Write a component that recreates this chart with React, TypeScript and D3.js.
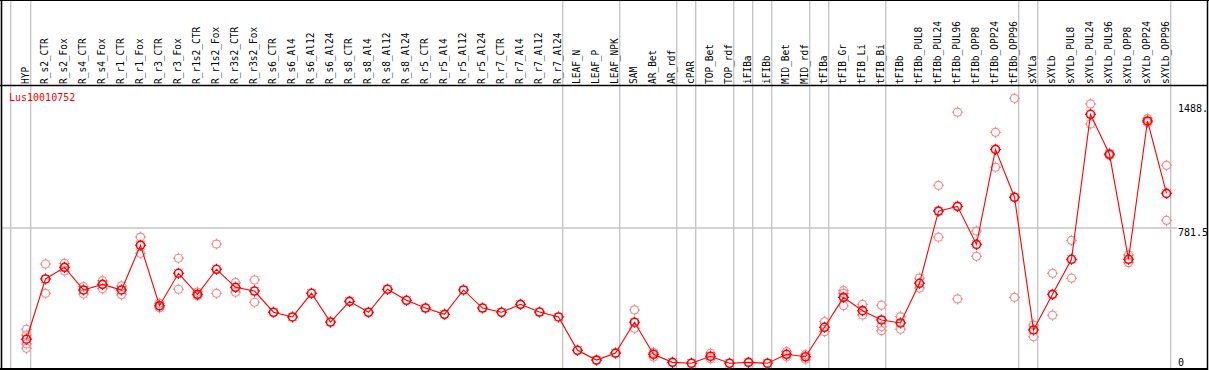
import React from "react";
import * as d3 from "d3";

const geneName = "Lus10010752";

const categories = [
  "HYP", "R_s2_CTR", "R_s2_Fox", "R_s4_CTR", "R_s4_Fox", "R_r1_CTR", "R_r1_Fox", "R_r3_CTR", "R_r3_Fox",
  "R_r1s2_CTR", "R_r1s2_Fox", "R_r3s2_CTR", "R_r3s2_Fox", "R_s6_CTR", "R_s6_Al4", "R_s6_Al12", "R_s6_Al24",
  "R_s8_CTR", "R_s8_Al4", "R_s8_Al12", "R_s8_Al24", "R_r5_CTR", "R_r5_Al4", "R_r5_Al12", "R_r5_Al24",
  "R_r7_CTR", "R_r7_Al4", "R_r7_Al12", "R_r7_Al24", "LEAF_N", "LEAF_P", "LEAF_NPK", "SAM", "AR_Bet", "AR_rdf",
  "cPAR", "TOP_Bet", "TOP_rdf", "iFIBa", "iFIBb", "MID_Bet", "MID_rdf", "tFIBa", "tFIB_Gr", "tFIB_Li", "tFIB_Bi",
  "tFIBb", "tFIBb_PUL8", "tFIBb_PUL24", "tFIBb_PUL96", "tFIBb_OPP8", "tFIBb_OPP24", "tFIBb_OPP96",
  "sXYLa", "sXYLb", "sXYLb_PUL8", "sXYLb_PUL24", "sXYLb_PUL96", "sXYLb_OPP8", "sXYLb_OPP24", "sXYLb_OPP96",
];

const meanValues = [
  147, 491, 557, 428, 460, 428, 683, 338, 523,
  403, 546, 443, 422, 301, 274, 409, 245,
  363, 301, 432, 369, 325, 289, 428, 325,
  301, 346, 302, 274, 84, 28, 68, 244, 61, 15,
  10, 50, 10, 15, 10, 61, 47, 215, 386, 310, 257,
  240, 466, 878, 905, 688, 1230, 957,
  200, 403, 603, 1430, 1202, 603, 1392, 979,
];

const replicateValues: number[][] = [
  [204, 171, 120, 95], [576, 409], [580, 536], [447, 405], [481, 435], [451, 401], [730, 637], [352, 327], [609, 432],
  [416, 395], [690, 409], [470, 415], [485, 358], [], [], [], [],
  [], [], [], [], [], [], [], [],
  [], [], [], [], [], [], [], [314, 209], [71, 46], [],
  [], [67, 36], [], [], [], [76, 47], [59, 33], [247, 190], [424, 409, 338], [346, 285], [341, 219, 196],
  [276, 204], [496, 439], [1025, 729], [1442, 377], [764, 620], [1327, 1128], [1521, 386],
  [228, 161], [523, 284], [711, 495], [1489, 1375], [1208, 1196], [628, 584], [1405, 1384], [1139, 825],
];

// group sizes between vertical separator lines
const groupSizes = [1, 28, 3, 3, 1, 2, 1, 1, 2, 1, 3, 7, 1, 7];

const tickValues = [0, 781.5, 1488];
const tickLabels = ["0", "781.5", "1488."];
const gridValues = [781.5];

const W = 1209;
const H = 370;
const FONT = "'DejaVu Sans Mono', 'Liberation Mono', monospace";
const RED = "#ff0000";
const PINK = "#f09090";
const GRAY = "#c4c4c4";

function Marker({ x, y, color, sw }: { x: number; y: number; color: string; sw: number }) {
  const r = 4;
  const t = 1.6;
  const spokes = [0, 45, 90, 135, 180, 225, 270, 315];
  return (
    <g>
      <circle cx={x} cy={y} r={r} fill="none" stroke={color} strokeWidth={sw} />
      {spokes.map((a) => {
        const rad = (a * Math.PI) / 180;
        const c = Math.cos(rad);
        const s = Math.sin(rad);
        return (
          <line
            key={a}
            x1={x + c * r}
            y1={y + s * r}
            x2={x + c * (r + t)}
            y2={y + s * (r + t)}
            stroke={color}
            strokeWidth={a % 90 === 0 ? 1.2 : 0.8}
          />
        );
      })}
    </g>
  );
}

export default function App() {
  const x = d3.scalePoint<string>().domain(categories).range([26.5, 1166.5]);
  const y = d3.scaleLinear().domain([0, 1563]).range([365, 91]);

  const lineGen = d3
    .line<number>()
    .x((_, i) => x(categories[i]) as number)
    .y((d) => y(d));

  // separator positions
  const sepX: number[] = [(x(categories[0]) as number) - 15.8];
  let idx = -1;
  groupSizes.forEach((g) => {
    idx += g;
    sepX.push((x(categories[idx]) as number) + 4.2);
  });

  return (
    <svg
      width={W}
      height={H}
      style={{ position: "absolute", left: 0, top: 0, background: "#fff" }}
      fontFamily={FONT}
    >
      <rect x={0} y={0} width={W} height={H} fill="#fff" />
      {/* vertical separators */}
      {sepX.map((sx, i) => (
        <line key={"s" + i} x1={sx} x2={sx} y1={0} y2={369} stroke={GRAY} strokeWidth={1.3} />
      ))}
      {/* horizontal grid */}
      {gridValues.map((v) => (
        <line key={"g" + v} x1={2} x2={1177} y1={y(v)} y2={y(v)} stroke={GRAY} strokeWidth={1.3} />
      ))}
      {/* frame */}
      <line x1={0} x2={W} y1={0.5} y2={0.5} stroke="#000" strokeWidth={1} />
      <line x1={0} x2={1208} y1={85.5} y2={85.5} stroke="#000" strokeWidth={1.5} />
      <line x1={1.5} x2={1.5} y1={0} y2={370} stroke="#000" strokeWidth={1.6} />
      <line x1={0} x2={1208} y1={369} y2={369} stroke="#000" strokeWidth={2} />
      <line x1={1207.5} x2={1207.5} y1={0} y2={370} stroke="#000" strokeWidth={1.5} />

      {/* category labels */}
      {categories.map((c) => {
        const px = (x(c) as number) + 2.7;
        return (
          <text
            key={c}
            transform={`translate(${px},84) rotate(-90) scale(0.95,1)`}
            fontSize={10}
            fill="#000"
          >
            {c}
          </text>
        );
      })}

      {/* gene name */}
      <text x={9} y={101} fontSize={10} fill={RED}>
        {geneName}
      </text>

      {/* y labels */}
      {tickValues.map((v, i) => (
        <text key={"t" + i} x={1178} y={Math.min(y(v) + 7.5, 366)} fontSize={10} fill="#000">
          {tickLabels[i]}
        </text>
      ))}

      {/* replicates */}
      {replicateValues.map((reps, i) =>
        reps.map((v, j) => (
          <Marker key={`r${i}-${j}`} x={x(categories[i]) as number} y={y(v)} color={PINK} sw={1.2} />
        ))
      )}

      {/* mean line */}
      <path d={lineGen(meanValues) || ""} fill="none" stroke={RED} strokeWidth={1.1} />
      {meanValues.map((v, i) => (
        <Marker key={"m" + i} x={x(categories[i]) as number} y={y(v)} color={RED} sw={1.6} />
      ))}
    </svg>
  );
}
